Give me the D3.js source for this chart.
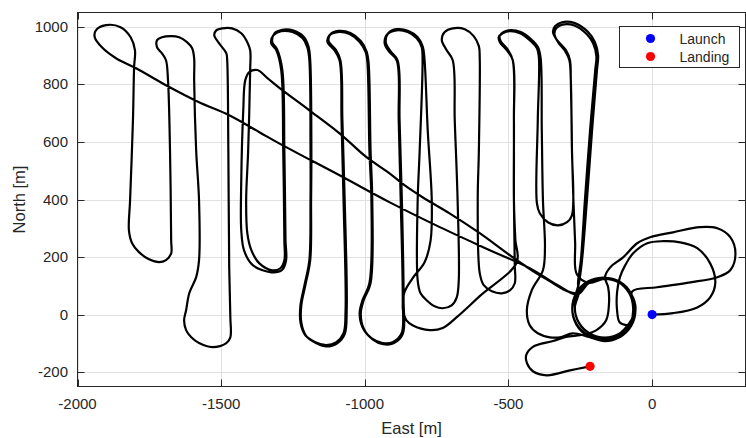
<!DOCTYPE html>
<html>
<head>
<meta charset="utf-8">
<script src="https://cdn.jsdelivr.net/npm/d3@7"></script>
<style>
    body { margin: 0; background: #fff; }
    text { font-family: "Liberation Sans", Arial, Helvetica, sans-serif; fill: #262626; }
</style>
</head>
<body>
<div id="chart"></div>
<script>
// flight track, [east, north] in metres
const climbOut = [[0,0],[73,5],[157,25],[202,60],[220,112],[202,178],[157,231],[98,251],[38,255],[-17,248],
    [-66,213],[-94,171],[-112,130],[-122,78],[-122,15],[-112,-28]];
const loiter1 = [[-76,-34],
    [-62,20],[-76,74],[-116,114],[-170,128],[-224,114],[-264,74],[-278,20],[-264,-34],[-224,-74],[-170,-88],[-116,-74],[-76,-34],
    [-61,24],[-75,76],[-113,114],[-165,128],[-217,114],[-255,76],[-269,24],[-255,-28],[-217,-66],[-165,-80],[-113,-66],[-75,-28],
    [-66,22],[-80,75],[-119,114],[-172,128],[-225,114],[-264,75],[-278,22],[-264,-31],[-225,-70],[-172,-84],[-119,-70],[-80,-31],
    [-58,16],[-72,70],[-112,110],[-166,124],[-220,110],[-260,70]];
const transit1 = [[-330,103],[-426,161],[-565,224],[-739,304],[-913,390],[-1088,484],[-1287,589],
    [-1367,634],[-1472,693],[-1577,738],[-1692,797],[-1796,856],[-1866,891],[-1915,929],[-1940,964],
    [-1936,988],[-1901,1006],[-1850,999],[-1815,964],[-1800,919],[-1803,860]];
const survey1 = [
    [-1807,675],[-1817,397],[-1821,293],[-1810,248],[-1786,217],[-1751,192],[-1716,182],[-1692,189],[-1674,213],
    [-1674,258],[-1678,571],[-1685,815],[-1692,884],
    [-1706,908],[-1723,929],[-1723,954],[-1706,964],[-1674,968],[-1646,964],[-1619,947],[-1601,926],[-1594,891],[-1594,815],
    [-1587,571],[-1577,397],[-1577,189],[-1587,130],[-1611,74],[-1622,15],[-1629,-20],[-1622,-54],[-1604,-79],
    [-1577,-99],[-1531,-113],[-1482,-99],[-1468,-79],[-1468,-9],[-1472,165],[-1475,571],[-1479,884],
    [-1482,908],[-1507,943],[-1524,971],[-1517,988],[-1496,995],[-1462,995],[-1430,978],[-1409,947],[-1399,919],[-1399,850],
    [-1406,571],[-1413,397],[-1409,283],[-1395,224],[-1367,178],[-1322,154],[-1294,161],[-1280,189],[-1280,258],
    [-1284,571],[-1291,850],
    [-1308,919],[-1326,943],[-1318,971],[-1291,985],[-1252,982],[-1217,961],[-1200,929],[-1193,884],
    [-1189,571],[-1189,397],[-1193,189],[-1210,102],[-1224,32],[-1224,-27],[-1207,-72],[-1172,-96],[-1134,-106],
    [-1099,-96],[-1074,-65],[-1067,15],[-1074,397],[-1081,675],[-1088,884],
    [-1106,919],[-1130,947],[-1123,971],[-1095,982],[-1053,975],[-1018,947],[-997,912],[-991,877],
    [-984,571],[-977,397],[-984,109],[-1008,50],[-1018,5],[-1008,-44],[-977,-82],[-938,-99],[-903,-96],[-872,-65],
    [-868,50],[-875,397],[-882,675],[-889,884],
    [-914,912],[-931,943],[-921,975],[-889,988],[-851,982],[-820,961],[-802,929],[-799,884],
    [-809,571],[-816,397],[-816,119],[-806,74],[-785,50],[-757,29],[-729,22],[-698,32],[-680,60],[-673,119],
    [-677,397],[-687,675],[-694,884],
    [-715,919],[-732,954],[-722,982],[-694,995],[-652,992],[-621,968],[-603,933],[-600,891],
    [-603,571],[-607,397],[-600,144],[-586,102],[-558,81],[-523,74],[-495,84],[-478,109],[-478,171],[-481,397],
    [-481,675],[-485,884],
    [-506,919],[-530,947],[-534,964],[-520,978],[-495,985],[-460,978],[-426,954],[-401,926],[-394,891],
    [-398,675],[-401,387],[-391,352],[-363,321],[-328,310],[-296,321],[-279,345],[-279,571],[-283,815],[-286,884],
    [-300,919],[-331,954],[-345,982],[-338,1002],[-314,1016],[-269,1013],[-223,982],[-199,947],[-188,901],[-192,850],
    [-209,640],[-227,397],[-244,189],[-255,109]];
const loiter2 = [[-278,20],[-264,-34],[-224,-74],[-170,-88],[-116,-74],[-76,-34],[-62,20],[-76,74],[-116,114],
    [-170,128],[-224,114],[-264,74]];
const transit2 = [[-373,126],[-471,189],[-600,283],[-705,352],[-799,408],[-862,450],[-914,491],
    [-994,547],[-1088,630],[-1193,710],[-1287,780],[-1339,822],[-1374,850],[-1402,843],[-1416,815],
    [-1423,710],[-1430,467],[-1430,293]];
const survey2 = [
    [-1420,222],[-1390,172],[-1325,147],[-1288,155],[-1274,189],[-1276,258],[-1280,571],[-1287,850],
    [-1305,922],[-1322,947],[-1314,978],[-1287,990],[-1248,987],[-1213,966],[-1196,932],[-1190,884],
    [-1186,571],[-1187,397],[-1190,189],[-1207,102],[-1221,32],[-1221,-27],[-1203,-76],[-1168,-100],[-1134,-111],
    [-1096,-100],[-1070,-68],[-1063,15],[-1070,397],[-1078,675],[-1085,884],
    [-1102,922],[-1126,950],[-1119,975],[-1092,986],[-1050,979],[-1014,951],[-994,915],[-987,877],
    [-980,571],[-974,397],[-980,109],[-1004,50],[-1014,5],[-1004,-48],[-973,-86],[-936,-103],[-900,-100],[-868,-68],
    [-865,50],[-871,397],[-879,675],[-886,884],
    [-910,915],[-927,946],[-918,979],[-889,992],[-848,986],[-816,964],[-798,931],[-792,884],
    [-781,640],[-767,397],[-771,258],[-792,182],[-834,126],[-862,78],[-868,25],[-865,5],[-855,-20],[-834,-37],
    [-774,-54],[-729,-47],[-680,-9],[-600,64],[-471,182],
    [-476,260],[-481,397],[-481,675],[-485,884],
    [-503,922],[-527,950],[-531,968],[-517,982],[-492,989],[-457,982],[-422,958],[-397,929],[-388,891],
    [-384,640],[-380,397],[-373,234],[-380,154],[-419,84],[-436,15],[-426,-37],[-398,-65],[-356,-79],[-321,-79],[-276,-65]];
const loiter3 = [[-220,-78],[-166,-92],[-112,-78],[-72,-38],[-58,16],[-72,70],[-112,110],[-166,124],[-220,110]];
const survey3 = [[-262,140],[-268,250],[-274,400],[-279,571],[-283,815],[-288,884],
    [-302,915],[-327,946],[-340,975],[-334,995],[-312,1008],[-271,1005],[-228,975],[-205,942],[-194,898],[-198,850],
    [-216,640],[-234,397],[-248,189],[-258,109]];
const loiter4 = [[-255,76],[-269,24],[-255,-28],[-217,-66],[-165,-80],[-113,-66],[-75,-28],[-61,24]];
const eastLoop = [[-70,80],[17,95],[133,112],[227,130],[272,154],[290,213],[272,269],[227,300],[167,304],
    [73,286],[-7,269],[-52,248],[-101,199],[-146,164],[-164,130],[-153,95]];
const approach = [[-150,40],[-160,-20],[-195,-55],[-240,-70],[-300,-78],[-345,-92],[-415,-112],[-438,-140],
    [-436,-168],[-415,-197],[-366,-211],[-286,-194],[-216,-180]];

const launchPoint = [0, 0];
const landingPoint = [-216, -180];

const xTicks = [-2000, -1500, -1000, -500, 0];
const yTicks = [-200, 0, 200, 400, 600, 800, 1000];
const legendItems = [{label: "Launch", color: "#0000ff", pt: launchPoint},
                     {label: "Landing", color: "#ff0000", pt: landingPoint}];

class FlightMap {
    constructor(parentElement) {
        this.parentElement = parentElement;
        this.track = [].concat(climbOut, loiter1, transit1, survey1, loiter2, transit2,
            survey2, loiter3, survey3, loiter4, eastLoop, approach);
        this.initVis();
    }

    initVis() {
        let vis = this;

        vis.width = 746;
        vis.height = 438;
        vis.box = {left: 77.5, right: 745.5, top: 12.5, bottom: 386.5};

        vis.svg = d3.select("#" + vis.parentElement).append("svg")
            .attr("width", vis.width)
            .attr("height", vis.height);

        vis.x = d3.scaleLinear().domain([-2000, 325]).range([vis.box.left, vis.box.right]);
        vis.y = d3.scaleLinear().domain([-250, 1050]).range([vis.box.bottom, vis.box.top]);

        vis.updateVis();
    }

    updateVis() {
        let vis = this;
        let b = vis.box;

        // grid
        vis.svg.append("g").selectAll("line.gx").data(xTicks).enter().append("line")
            .attr("x1", d => Math.round(vis.x(d)) + 0.5).attr("x2", d => Math.round(vis.x(d)) + 0.5)
            .attr("y1", b.top).attr("y2", b.bottom)
            .attr("stroke", "#e1e1e1");
        vis.svg.append("g").selectAll("line.gy").data(yTicks).enter().append("line")
            .attr("y1", d => Math.round(vis.y(d)) + 0.5).attr("y2", d => Math.round(vis.y(d)) + 0.5)
            .attr("x1", b.left).attr("x2", b.right)
            .attr("stroke", "#e1e1e1");

        vis.svg.append("clipPath").attr("id", "plotclip").append("rect")
            .attr("x", b.left).attr("y", b.top)
            .attr("width", b.right - b.left).attr("height", b.bottom - b.top);

        // track
        vis.line = d3.line()
            .x(d => vis.x(d[0]))
            .y(d => vis.y(d[1]))
            .curve(d3.curveCatmullRom.alpha(0.5));

        vis.svg.append("path")
            .datum(vis.track)
            .attr("clip-path", "url(#plotclip)")
            .attr("d", vis.line)
            .attr("fill", "none")
            .attr("stroke", "#000")
            .attr("stroke-width", 2.2)
            .attr("stroke-linejoin", "round");

        // launch / landing markers
        vis.svg.append("g").selectAll("circle").data(legendItems).enter().append("circle")
            .attr("cx", d => vis.x(d.pt[0]))
            .attr("cy", d => vis.y(d.pt[1]))
            .attr("r", 4.6)
            .attr("fill", d => d.color);

        // axes, ticks pointing inward on all four sides
        let axisG = vis.svg.append("g").attr("stroke", "#262626");
        axisG.append("rect")
            .attr("x", b.left).attr("y", b.top)
            .attr("width", b.right - b.left).attr("height", b.bottom - b.top)
            .attr("fill", "none");
        xTicks.forEach(t => {
            let px = Math.round(vis.x(t)) + 0.5;
            axisG.append("line").attr("x1", px).attr("x2", px).attr("y1", b.bottom).attr("y2", b.bottom - 7);
            axisG.append("line").attr("x1", px).attr("x2", px).attr("y1", b.top).attr("y2", b.top + 7);
        });
        yTicks.forEach(t => {
            let py = Math.round(vis.y(t)) + 0.5;
            axisG.append("line").attr("y1", py).attr("y2", py).attr("x1", b.left).attr("x2", b.left + 7);
            axisG.append("line").attr("y1", py).attr("y2", py).attr("x1", b.right).attr("x2", b.right - 7);
        });

        vis.svg.append("g").selectAll("text").data(xTicks).enter().append("text")
            .attr("x", d => vis.x(d))
            .attr("y", 409)
            .attr("text-anchor", "middle")
            .attr("font-size", "15px")
            .text(d => d);
        vis.svg.append("g").selectAll("text").data(yTicks).enter().append("text")
            .attr("x", 68)
            .attr("y", d => vis.y(d) + 5)
            .attr("text-anchor", "end")
            .attr("font-size", "15px")
            .text(d => d);

        // axis titles
        vis.svg.append("text")
            .attr("x", (b.left + b.right) / 2)
            .attr("y", 434)
            .attr("text-anchor", "middle")
            .attr("font-size", "16.5px")
            .text("East [m]");
        vis.svg.append("text")
            .attr("transform", `translate(25, ${(b.top + b.bottom) / 2}) rotate(-90)`)
            .attr("text-anchor", "middle")
            .attr("font-size", "16.5px")
            .text("North [m]");

        // legend
        let leg = vis.svg.append("g").attr("transform", "translate(619.5, 26.5)");
        leg.append("rect")
            .attr("width", 120).attr("height", 41)
            .attr("fill", "#fff").attr("stroke", "#262626");
        legendItems.forEach((d, i) => {
            leg.append("circle").attr("cx", 31).attr("cy", 12 + i * 18).attr("r", 4.6).attr("fill", d.color);
            leg.append("text").attr("x", 60).attr("y", 12 + i * 18 + 5)
                .attr("font-size", "14px").text(d.label);
        });
    }
}

new FlightMap("chart");
</script>
</body>
</html>
